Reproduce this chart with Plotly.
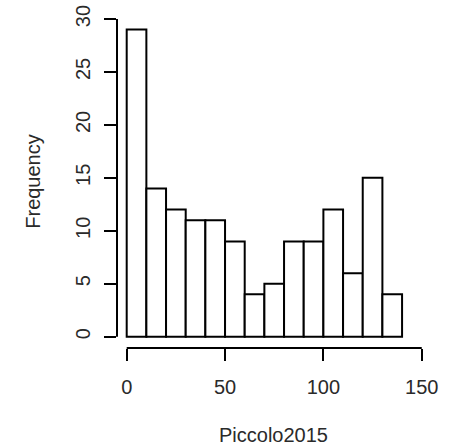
import plotly.graph_objects as go

# Histogram of Piccolo2015: bin edges (width 10) and counts per bin
bin_edges = [0, 10, 20, 30, 40, 50, 60, 70, 80, 90, 100, 110, 120, 130, 140]
counts = [29, 14, 12, 11, 11, 9, 4, 5, 9, 9, 12, 6, 15, 4]
x_ticks = [0, 50, 100, 150]
y_ticks = [0, 5, 10, 15, 20, 25, 30]

centers = [(a + b) / 2 for a, b in zip(bin_edges[:-1], bin_edges[1:])]
widths = [b - a for a, b in zip(bin_edges[:-1], bin_edges[1:])]

font = dict(family="Liberation Sans, Arial, sans-serif", size=20, color="#2a2a2a")

fig = go.Figure(
    go.Bar(
        x=centers,
        y=counts,
        width=widths,
        marker=dict(color="white", line=dict(color="black", width=2)),
        hoverinfo="x+y",
    )
)

# R-style detached axes: lines only span the first to last tick
fig.add_shape(type="line", xref="x", yref="paper",
              x0=x_ticks[0], x1=x_ticks[-1], y0=0, y1=0,
              line=dict(color="black", width=2))
fig.add_shape(type="line", xref="paper", yref="y",
              x0=0, x1=0, y0=y_ticks[0], y1=y_ticks[-1],
              line=dict(color="black", width=2))

fig.update_layout(
    width=452,
    height=447,
    margin=dict(l=117, r=22, t=15, b=99),
    paper_bgcolor="white",
    plot_bgcolor="white",
    showlegend=False,
    font=font,
    xaxis=dict(
        range=[-4.93, 154.2],
        tickvals=x_ticks,
        ticks="outside",
        ticklen=12,
        tickwidth=2,
        tickcolor="black",
        ticklabelstandoff=9,
        showline=False,
        showgrid=False,
        zeroline=False,
        automargin=False,
        title=dict(text="Piccolo2015", font=font, standoff=30),
    ),
    yaxis=dict(
        range=[-1.07, 30.38],
        tickvals=y_ticks,
        ticks="outside",
        ticklen=12,
        tickwidth=2,
        tickcolor="black",
        tickangle=-90,
        ticklabelstandoff=6,
        showline=False,
        showgrid=False,
        zeroline=False,
        automargin=False,
        title=dict(text="Frequency", font=font, standoff=26),
    ),
)

fig.write_html("out.html")
